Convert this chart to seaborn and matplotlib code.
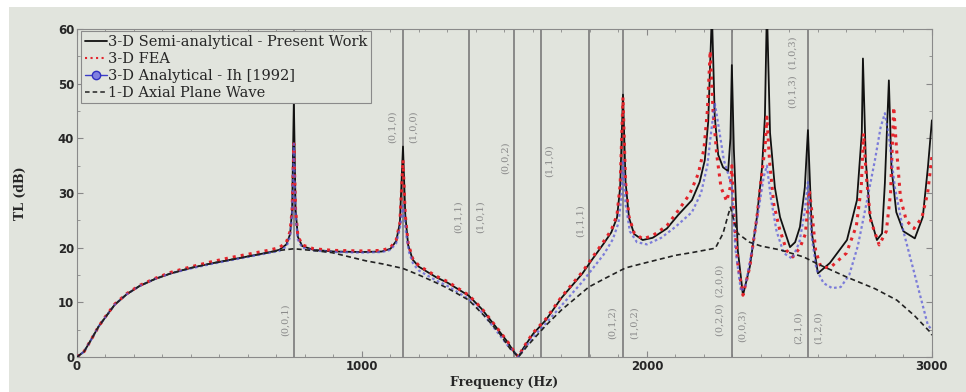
import matplotlib.pyplot as plt
import seaborn as sns
from matplotlib.lines import Line2D
from matplotlib.patches import Rectangle
from matplotlib.ticker import MultipleLocator

# --- data (Hz, dB) ---
series_names = ['3-D Semi-analytical - Present Work', '3-D FEA',
                '3-D Analytical - Ih [1992]', '1-D Axial Plane Wave']

freq_semi = [0, 25, 50, 75, 100, 133, 175, 220, 275, 330,
             400, 470, 540, 610, 670, 710, 735, 748, 755, 761,
             767, 775, 790, 830, 900, 1000, 1070, 1100, 1120, 1133,
             1144, 1152, 1162, 1178, 1200, 1260, 1300, 1375, 1420, 1470,
             1510, 1530, 1549, 1565, 1600, 1646, 1700, 1774, 1810, 1849,
             1875, 1895, 1906, 1916, 1925, 1937, 1955, 1985, 2020, 2070,
             2110, 2158, 2185, 2203, 2215, 2228, 2238, 2250, 2267, 2285,
             2293, 2298, 2305, 2319, 2337, 2361, 2386, 2404, 2414, 2421,
             2432, 2449, 2467, 2502, 2520, 2537, 2554, 2565, 2579, 2600,
             2642, 2702, 2737, 2754, 2758, 2768, 2782, 2807, 2825, 2835,
             2849, 2858, 2875, 2900, 2940, 2968, 2986, 3000]
tl_semi = [0, 1, 3.2, 5.5, 7.3, 9.6, 11.5, 13, 14.3, 15.3,
           16.3, 17.1, 17.8, 18.5, 19.1, 19.6, 20.6, 22.5, 27, 47,
           27, 22, 20.3, 19.6, 19.3, 19.2, 19.3, 19.8, 21.2, 24.5,
           38.5, 26, 20.5, 17.8, 16.5, 14.6, 13.6, 11.2, 8.8, 5.5,
           2.8, 1.2, 0, 1.5, 4.2, 6.8, 10.8, 15.3, 18, 20.8,
           22.8, 25.5, 31, 48, 32, 25.5, 22.5, 21.4, 21.8, 23.5,
           26, 28.7, 32, 36, 43, 63, 44, 37, 34.7, 34,
           40, 53.4, 38, 19.5, 11.3, 16.5, 25.6, 34.7, 43.9, 64,
           41, 31, 25.6, 20.1, 21, 23.8, 31, 41.5, 22.6, 15.3,
           17.2, 21.4, 28.7, 41, 54.6, 36, 26, 21.4, 22.6, 31.8,
           50.6, 34.7, 26.5, 23, 21.7, 25.6, 34.7, 43.3]

freq_fea = [0, 25, 50, 75, 100, 133, 175, 220, 275, 330,
            400, 470, 540, 610, 670, 710, 735, 748, 755, 761,
            767, 775, 790, 830, 900, 1000, 1070, 1100, 1120, 1133,
            1144, 1152, 1162, 1178, 1200, 1260, 1300, 1375, 1420, 1470,
            1510, 1530, 1549, 1565, 1600, 1646, 1700, 1774, 1810, 1849,
            1875, 1895, 1906, 1916, 1925, 1937, 1955, 1985, 2020, 2070,
            2110, 2150, 2180, 2200, 2212, 2222, 2232, 2245, 2260, 2280,
            2292, 2298, 2305, 2319, 2337, 2361, 2386, 2404, 2414, 2421,
            2430, 2445, 2465, 2490, 2512, 2537, 2556, 2570, 2580, 2592,
            2610, 2642, 2700, 2735, 2752, 2760, 2770, 2785, 2815, 2840,
            2855, 2866, 2876, 2890, 2910, 2937, 2965, 2985, 3000]
tl_fea = [0, 1, 3.2, 5.5, 7.4, 9.7, 11.6, 13.1, 14.4, 15.5,
          16.5, 17.4, 18.2, 18.9, 19.5, 20, 21, 23, 27, 39,
          27, 22.2, 20.5, 19.8, 19.5, 19.4, 19.5, 20, 21.4, 24.5,
          36, 26, 20.8, 18, 16.7, 14.8, 13.8, 11.3, 8.9, 5.6,
          2.9, 1.3, 0, 1.6, 4.4, 7, 11, 15.6, 18.3, 21.2,
          23.2, 26, 31.5, 47.5, 32, 25.7, 22.7, 21.6, 22.2, 24,
          26.8, 29.8, 33.5, 38, 45, 56, 45, 37, 31, 28.5,
          31, 35, 26, 17, 11.3, 16.5, 25.6, 34, 38, 43.9,
          36, 28, 23.5, 19.5, 18.3, 20, 22.5, 30.5, 26, 19.5,
          16.5, 16.3, 19, 24, 31, 40.9, 33, 25, 20.5, 23,
          30, 45.7, 38, 29, 25, 23.5, 25.5, 30, 36.6]

freq_ih = [0, 25, 50, 75, 100, 133, 175, 220, 275, 330,
           400, 470, 540, 610, 670, 710, 735, 748, 755, 761,
           767, 775, 790, 830, 900, 1000, 1070, 1100, 1120, 1133,
           1144, 1155, 1165, 1180, 1200, 1260, 1300, 1375, 1420, 1470,
           1510, 1549, 1600, 1646, 1700, 1774, 1849, 1880, 1900, 1910,
           1916, 1925, 1940, 1965, 2000, 2050, 2100, 2158, 2190, 2212,
           2225, 2238, 2252, 2270, 2285, 2298, 2310, 2330, 2345, 2370,
           2395, 2410, 2421, 2435, 2455, 2480, 2510, 2535, 2552, 2565,
           2578, 2595, 2620, 2650, 2680, 2710, 2740, 2770, 2800, 2820,
           2835, 2850, 2870, 2900, 2930, 2960, 2986, 3000]
tl_ih = [0, 1, 3.2, 5.5, 7.3, 9.6, 11.5, 13, 14.3, 15.3,
         16.2, 17, 17.7, 18.4, 19, 19.4, 20.2, 22, 26, 39,
         26, 21.5, 20, 19.5, 19.2, 19.1, 19.2, 19.6, 20.8, 23.5,
         27.7, 22.5, 19.2, 17, 15.8, 14, 13, 10.6, 8.2, 4.9,
         2.2, 0, 3.6, 6.2, 9.4, 13.8, 18.8, 21.5, 24.5, 29,
         36, 28, 23, 21, 20.6, 21.8, 23.8, 26.5, 30, 35,
         41, 46.5, 42, 36, 33.5, 31, 20, 12, 12.8, 20,
         28, 33, 35, 29, 23, 19, 18, 21, 26, 32,
         22, 16, 13.5, 12.6, 12.8, 15, 20.3, 28, 36, 42,
         44.6, 40, 31, 23, 17, 11, 5.8, 5]

freq_1d = [0, 25, 50, 75, 100, 133, 175, 220, 275, 330,
           400, 470, 540, 610, 670, 710, 761, 824, 894, 1013,
           1075, 1144, 1200, 1260, 1300, 1375, 1430, 1480, 1520, 1549,
           1580, 1646, 1700, 1796, 1850, 1925, 2000, 2100, 2158, 2240,
           2267, 2285, 2293, 2305, 2319, 2360, 2400, 2467, 2550, 2600,
           2702, 2800, 2877, 2940, 2993, 3000]
tl_1d = [0, 1, 3.2, 5.5, 7.3, 9.6, 11.5, 13, 14.3, 15.3,
         16.3, 17.1, 17.8, 18.5, 19.1, 19.5, 19.8, 19.5, 19.1, 17.6,
         17, 16.2, 15, 13.6, 12.6, 10.4, 7.5, 4.5, 1.5, 0,
         2, 5.8, 8.6, 12.8, 14.3, 16.3, 17.3, 18.6, 19.1, 19.9,
         22.6, 26, 27.4, 25, 22.6, 21, 20.3, 19.6, 18.3, 17,
         14.6, 12.5, 10.4, 7.5, 4.6, 4]

# chamber mode frequencies (vertical lines) and their tags
mode_freqs = [761, 1144, 1375, 1533, 1628, 1796, 1916, 2298, 2565]
mode_tags = ['(0,0,1)', '(0,1,0)', '(1,0,0)', '(0,1,1)', '(1,0,1)',
             '(0,0,2)', '(1,1,0)', '(1,1,1)', '(0,1,2)', '(1,0,2)',
             '(0,2,0)  (2,0,0)', '(0,0,3)', '(2,1,0)', '(1,2,0)',
             '(0,1,3)  (1,0,3)']
tag_x = [730, 1105, 1179, 1337, 1414, 1502, 1656, 1765, 1877, 1954,
         2256, 2333, 2530, 2600, 2512]
tag_y = [6.8, 42.2, 42.2, 25.7, 25.7, 36.4, 36, 25, 6.2, 6.2,
         10.4, 5.8, 5.3, 5.3, 52]

sns.set_style('ticks')
plt.rcParams['font.family'] = ['DejaVu Serif']

bg = '#e1e4dd'
fig = plt.figure(figsize=(9.66, 3.92), dpi=100, facecolor='white')
fig.patches.append(Rectangle((0.009, 0), 0.991, 0.982, transform=fig.transFigure,
                             facecolor=bg, edgecolor='none', zorder=-5))
ax = fig.add_axes([0.0797, 0.0893, 0.885, 0.8367])
ax.set_facecolor(bg)

for f in mode_freqs:
    ax.axvline(f, color='#7a7a7a', lw=1.2, zorder=1)

for s, x, y in zip(mode_tags, tag_x, tag_y):
    ax.text(x, y, s, rotation=90, ha='center', va='center', fontsize=7,
            color='#8a8a8a', zorder=2)

sns.lineplot(x=freq_semi, y=tl_semi, ax=ax, color='#111111', lw=1.3, zorder=3)
sns.lineplot(x=freq_fea, y=tl_fea, ax=ax, color='#e3242b', lw=2.2,
             linestyle=':', zorder=4)
sns.lineplot(x=freq_ih, y=tl_ih, ax=ax, color='#5a5ad8', lw=1.6,
             linestyle=(0, (1.2, 1.2)), alpha=0.75, zorder=5)
sns.lineplot(x=freq_1d, y=tl_1d, ax=ax, color='#222222', lw=1.2,
             linestyle=(0, (3, 2)), zorder=6)

handles = [
    Line2D([], [], color='#111111', lw=1.3),
    Line2D([], [], color='#e3242b', lw=1.5, linestyle=':'),
    Line2D([], [], color='#3c3cc8', lw=1.0, marker='o', markersize=6,
           markerfacecolor='#8080e0', markeredgecolor='#3030c0'),
    Line2D([], [], color='#222222', lw=1.1, linestyle=(0, (3, 2))),
]
leg = ax.legend(handles, series_names, loc='upper left', bbox_to_anchor=(0.005, 0.993),
                borderaxespad=0, fontsize=10.5, handlelength=1.5, handletextpad=0.1,
                labelspacing=0.2, borderpad=0.25, fancybox=False,
                edgecolor='#8a8a8a', facecolor=bg, framealpha=1)
leg.get_frame().set_linewidth(0.8)
leg.set_zorder(10)

ax.set_xlim(0, 3000)
ax.set_ylim(0, 60)
ax.set_xticks([0, 1000, 2000, 3000])
ax.set_yticks(range(0, 61, 10))
ax.xaxis.set_minor_locator(MultipleLocator(100))
ax.yaxis.set_minor_locator(MultipleLocator(5))
ax.tick_params(which='both', direction='in', top=True, right=True, color='#888888')
ax.tick_params(which='major', length=4, labelsize=8.5, pad=2)
ax.tick_params(which='minor', length=2)
for lab in ax.get_xticklabels() + ax.get_yticklabels():
    lab.set_fontfamily('DejaVu Sans')
    lab.set_fontweight('bold')
for sp in ax.spines.values():
    sp.set_color('#8a8a8a')
    sp.set_linewidth(0.8)

ax.set_xlabel('Frequency (Hz)', fontsize=9, fontweight='bold', labelpad=2)
ax.set_ylabel('TL (dB)', fontsize=9, fontweight='bold')
ax.yaxis.set_label_coords(-0.058, 0.5)

fig.savefig('out.png', dpi=100, facecolor=fig.get_facecolor())
